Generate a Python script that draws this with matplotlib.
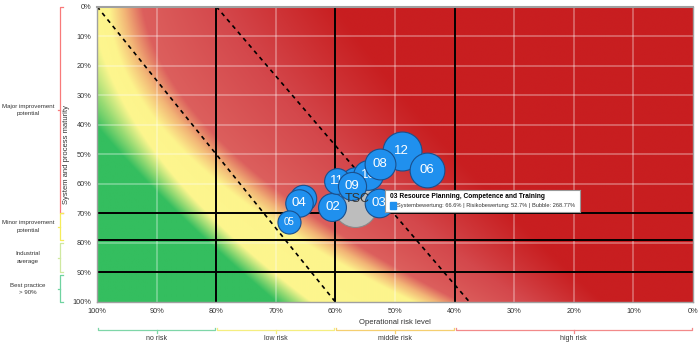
import numpy as np
import matplotlib
matplotlib.use("Agg")
import matplotlib.pyplot as plt

plt.rcParams["font.family"] = ["Liberation Sans", "DejaVu Sans"]

# ---------------- data ----------------
labels   = ["TSC", "01", "04", "05", "02", "07", "10", "11", "09", "12", "08", "06", "03"]
risk     = [56.7, 65.4, 66.1, 67.8, 60.5, 56.7, 54.5, 59.7, 57.2, 48.9, 52.5, 44.6, 52.7]
maturity = [67.2, 64.9, 66.6, 72.8, 67.7, 59.1, 57.0, 59.1, 60.7, 48.8, 53.3, 55.3, 66.6]
bubble   = [636, 229, 248, 175, 256, 248, 290, 218, 260, 498, 312, 397, 268.77]

x_ticks = list(range(100, -1, -10))
y_ticks = list(range(0, 101, 10))
v_lines = [80, 60, 40]
h_lines = [70, 79, 90]
dash1 = ([100, 60], [0, 100])
dash2 = ([80, 37.5], [0, 100])

left_groups = [("Major improvement\npotential", 0, 70, "#f87a7a"),
               ("Minor improvement\npotential", 70, 79, "#f5ec5a"),
               ("Industrial\naverage", 80, 90, "#cfe8a0"),
               ("Best practice\n> 90%", 91, 100, "#6fd3a0")]
bottom_groups = [("no risk", 100, 80, "#7fd6a8"),
                 ("low risk", 80, 60, "#f5ee80"),
                 ("middle risk", 60, 40, "#f5cf70"),
                 ("high risk", 40, 0, "#f28a8a")]

tooltip_title = "03 Resource Planning, Competence and Training"
tooltip_text = "Systembewertung: 66.6% | Risikobewertung: 52.7% | Bubble: 268.77%"

# ---------------- figure ----------------
W, H = 700, 344
fig = plt.figure(figsize=(W / 100, H / 100), dpi=100)
ax = fig.add_axes([97 / W, 1 - 302 / H, (693 - 97) / W, (302 - 6.5) / H])
ax.set_xlim(100, 0)
ax.set_ylim(100, 0)

# background gradient (contours of colour stops at top / middle / bottom rows)
bg_cols = np.array([(52, 190, 95), (150, 218, 115), (253, 246, 142), (253, 244, 140),
                    (242, 180, 118), (220, 95, 93), (212, 72, 76), (200, 30, 32)]) / 255
pos_top = [-0.15, -0.07, -0.01, 0.02, 0.045, 0.075, 0.20, 0.40]
pos_mid = [0.04, 0.07, 0.10, 0.15, 0.19, 0.23, 0.40, 0.60]
pos_bot = [0.30, 0.33, 0.36, 0.53, 0.57, 0.61, 0.72, 0.85]
coef = [np.polyfit([1.0, 0.5, 0.0], [t, m_, b_], 2) for t, m_, b_ in zip(pos_top, pos_mid, pos_bot)]
nu, nv = 600, 300
uu = np.linspace(0, 1, nu)          # 0 = left edge of the plot
vv = np.linspace(1, 0, nv)          # 1 = top edge of the plot
img = np.zeros((nv, nu, 3))
for i, v in enumerate(vv):
    pos = np.maximum.accumulate(np.array([np.polyval(c, v) for c in coef]))
    pos = pos + np.arange(len(pos)) * 1e-6
    for ch in range(3):
        img[i, :, ch] = np.interp(uu, pos, bg_cols[:, ch])
ax.imshow(img, extent=(100, 0, 100, 0), origin="upper", aspect="auto", zorder=0,
          interpolation="bilinear")

# grid
for t in x_ticks[1:-1]:
    ax.axvline(t, color="white", alpha=0.35, lw=1.2, zorder=1)
for t in y_ticks[1:-1]:
    ax.axhline(t, color="white", alpha=0.35, lw=1.2, zorder=1)
for v in v_lines:
    ax.axvline(v, color="black", lw=1.4, zorder=2)
for h in h_lines:
    ax.axhline(h, color="black", lw=1.4, zorder=2)
ax.plot(*dash1, color="black", lw=1.2, ls=(0, (2.5, 2.5)), zorder=2)
ax.plot(*dash2, color="black", lw=1.2, ls=(0, (2.5, 2.5)), zorder=2)

# bubbles
ref_r = 14.3
for i, (lab, x, y, b) in enumerate(zip(labels, risk, maturity, bubble)):
    rad = ref_r * np.sqrt(b / 268.77)
    s = (2 * rad * 0.72) ** 2
    z = 3 + 2 * i
    if lab == "TSC":
        ax.scatter([x], [y], s=s, color="#bdbdbd", edgecolor="#8a8a8a", lw=0.8, zorder=z)
        ax.text(x - 0.3, y - 2.2, lab, ha="center", va="center", fontsize=9, color="#333333",
                zorder=40)
    else:
        ax.scatter([x], [y], s=s, color="#2090ee", edgecolor="#1a4f8c", lw=0.8, zorder=z)
        ax.text(x, y, lab, ha="center", va="center", fontsize=9.5 if rad > 12.5 else 7,
                color="white", zorder=z + 1)

# ticks
ax.set_xticks(x_ticks)
ax.set_xticklabels([f"{t}%" for t in x_ticks])
ax.set_yticks(y_ticks)
ax.set_yticklabels([f"{t}%" for t in y_ticks])
ax.tick_params(length=0, labelsize=5.3, pad=4, colors="#333333")
for sp in ax.spines.values():
    sp.set_color("#a0a0a0")
    sp.set_linewidth(1)
ax.spines["top"].set_linewidth(1.5)

ax.set_xlabel("Operational risk level", fontsize=5.5, labelpad=3, color="#333333")
ax.set_ylabel("System and process maturity", fontsize=5.5, color="#333333")
ax.yaxis.set_label_coords((70 - 97) / 596, 0.5)

# tooltip
tip_ax = fig.add_axes([385 / W, 1 - 212 / H, (580 - 385) / W, 22 / H])
tip_ax.set_zorder(50)
tip_ax.set_xlim(0, 1)
tip_ax.set_ylim(0, 1)
tip_ax.set_xticks([])
tip_ax.set_yticks([])
tip_ax.set_facecolor("white")
for sp in tip_ax.spines.values():
    sp.set_color("#999999")
    sp.set_linewidth(0.8)
tip_ax.text(0.025, 0.72, tooltip_title, fontsize=4.8, fontweight="bold", va="center", ha="left")
tip_ax.add_patch(plt.Rectangle((0.025, 0.12), 0.03, 0.32, color="#2090ee"))
tip_ax.text(0.06, 0.28, tooltip_text, fontsize=4.1, va="center", ha="left", color="#333333")

# left brackets
def ypix(m):
    return 1 - (6.5 + m * 2.955) / H

for text, m0, m1, col in left_groups:
    y0, y1 = ypix(m0), ypix(m1)
    xb = 60 / W
    dx = 2.5 / W
    fig.add_artist(plt.Line2D([xb + dx, xb, xb, xb + dx], [y0, y0, y1, y1],
                              color=col, lw=0.9, transform=fig.transFigure))
    ym = (y0 + y1) / 2
    fig.add_artist(plt.Line2D([xb, xb - dx], [ym, ym], color=col, lw=0.9,
                              transform=fig.transFigure))
    fig.text(28 / W, ym, text, ha="center", va="center", fontsize=4.4, color="#333333",
             linespacing=1.6)

# bottom brackets
def xpix(r):
    return (97 + (100 - r) * 5.96) / W

for text, r0, r1, col in bottom_groups:
    x0, x1 = xpix(r0) + 1 / W, xpix(r1) - 1 / W
    yb = 1 - 330 / H
    dy = 2.5 / H
    fig.add_artist(plt.Line2D([x0, x0, x1, x1], [yb + dy, yb, yb, yb + dy],
                              color=col, lw=0.9, transform=fig.transFigure))
    xm = (x0 + x1) / 2
    fig.add_artist(plt.Line2D([xm, xm], [yb, yb - dy], color=col, lw=0.9,
                              transform=fig.transFigure))
    fig.text(xm, 1 - 338 / H, text, ha="center", va="center", fontsize=5.0, color="#333333")

fig.savefig("out.png", dpi=100)
